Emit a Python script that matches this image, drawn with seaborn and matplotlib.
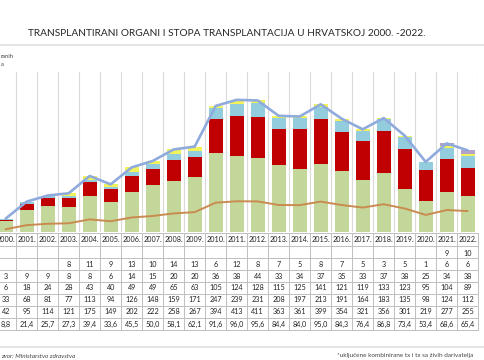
import numpy as np
import pandas as pd
import matplotlib
matplotlib.use("Agg")
import matplotlib.pyplot as plt
import matplotlib.transforms as mtransforms
import seaborn as sns

# ---------------- data ----------------
years = [str(y) + "." for y in range(2000, 2023)]
purple = [0] * 21 + [9, 10]
yellow = [0, 0, 0, 8, 11, 9, 13, 10, 14, 13, 6, 12, 8, 7, 5, 8, 7, 5, 3, 5, 1, 6, 6]
lightblue = [3, 9, 9, 8, 8, 6, 14, 15, 20, 20, 36, 38, 44, 33, 34, 37, 35, 33, 37, 38, 25, 34, 38]
red = [6, 18, 24, 28, 43, 40, 49, 49, 65, 63, 105, 124, 128, 115, 125, 141, 121, 119, 133, 123, 95, 104, 89]
green = [33, 68, 81, 77, 113, 94, 126, 148, 159, 171, 247, 239, 231, 208, 197, 213, 191, 164, 183, 135, 98, 124, 112]
total = [42, 95, 114, 121, 175, 149, 202, 222, 258, 267, 394, 413, 411, 363, 361, 399, 354, 321, 356, 301, 219, 277, 255]
rate = [8.8, 21.4, 25.7, 27.3, 39.4, 33.6, 45.5, 50.0, 58.1, 62.1, 91.6, 96.0, 95.6, 84.4, 84.0, 95.0,
        84.3, 76.4, 86.8, 73.4, 53.4, 68.6, 65.4]

title = "TRANSPLANTIRANI ORGANI I STOPA TRANSPLANTACIJA U HRVATSKOJ 2000. -2022."

# ---------------- figure ----------------
sns.set_theme(style="white")
plt.rcParams['font.family'] = ['Lato', 'DejaVu Sans']

W, H = 485, 360
fig = plt.figure(figsize=(W / 100, H / 100), dpi=100)
ax = fig.add_axes([0, 128 / H, 478 / W, 160 / H])

x = np.arange(len(years))
stacks = [(green, "#C4D79B"), (red, "#C00000"), (lightblue, "#93CDDD"),
          (yellow, "#F2F25A"), (purple, "#B3A2C7")]
bottom = np.zeros(len(years))
for vals, col in stacks:
    vals = np.array(vals)
    ax.bar(x, vals, bottom=bottom, width=0.67, color=col, edgecolor="none", zorder=2)
    bottom += vals

df = pd.DataFrame({"x": x, "total": total, "rate": rate})
sns.lineplot(data=df, x="x", y="total", ax=ax, color="#8FAADC", lw=1.9, zorder=3)
sns.lineplot(data=df, x="x", y="rate", ax=ax, color="#C98B4F", lw=1.4, zorder=3)

ax.set_xlim(-0.271, 22.49)
ax.set_ylim(0, 500)
for xv in np.arange(0.5, 23, 1):
    ax.axvline(xv, color="#DADADA", lw=0.8, zorder=1)
ax.set_xticks([])
ax.set_yticks([])
ax.set_xlabel("")
ax.set_ylabel("")
for s in ax.spines.values():
    s.set_visible(False)

# ---------------- table ----------------
tr = mtransforms.blended_transform_factory(ax.transData, fig.transFigure)


def fy(py):
    return 1 - py / H


row_y = [253, 264.5, 276.5, 288, 300, 312, 324]
rows = [purple, yellow, lightblue, red, green, total, rate]
for i in range(len(years)):
    ax.text(i, fy(240), years[i], transform=tr, ha="center", va="center",
            fontsize=5.2, color="#222222", clip_on=False)
    for r, (ry, vals) in enumerate(zip(row_y, rows)):
        v = vals[i]
        if r < 2 and v == 0:
            continue
        if r == 6:
            s = f"{v:.1f}".replace(".", ",")
        else:
            s = str(v)
        ax.text(i, fy(ry), s, transform=tr, ha="center", va="center",
                fontsize=5.2, color="#222222", clip_on=False)

line_y = [233, 246, 258, 270, 282, 294, 306, 318, 330]
for ly in line_y:
    ax.plot([-1, 22.5], [fy(ly), fy(ly)], transform=tr, color="#BFBFBF", lw=0.7, clip_on=False)
for xv in np.arange(-0.5, 23, 1):
    ax.plot([xv, xv], [fy(233), fy(330)], transform=tr, color="#BFBFBF", lw=0.7, clip_on=False)

# ---------------- texts / frame ----------------
fig.text(227 / W, fy(33), title, ha="center", va="center", fontsize=7.3, color="#262626")
fig.add_artist(plt.Line2D([0, 1], [fy(45), fy(45)], color="#E4E4E4", lw=1.5))
fig.add_artist(plt.Line2D([0, 1], [fy(347), fy(347)], color="#E4E4E4", lw=1.5))
fig.text(1 / W, fy(57), "ranih", ha="left", va="center", fontsize=4.2, color="#444444")
fig.text(1 / W, fy(64), "a", ha="left", va="center", fontsize=4.2, color="#444444")
fig.text(1 / W, fy(356), "zvor: Ministarstvo zdravstva", ha="left", va="center",
         fontsize=4.6, style="italic", color="#444444")
fig.text(473 / W, fy(356), "*uključene kombinirane tx i tx sa živih darivatelja", ha="right",
         va="center", fontsize=4.6, color="#444444")

fig.savefig("out.png", dpi=100)
